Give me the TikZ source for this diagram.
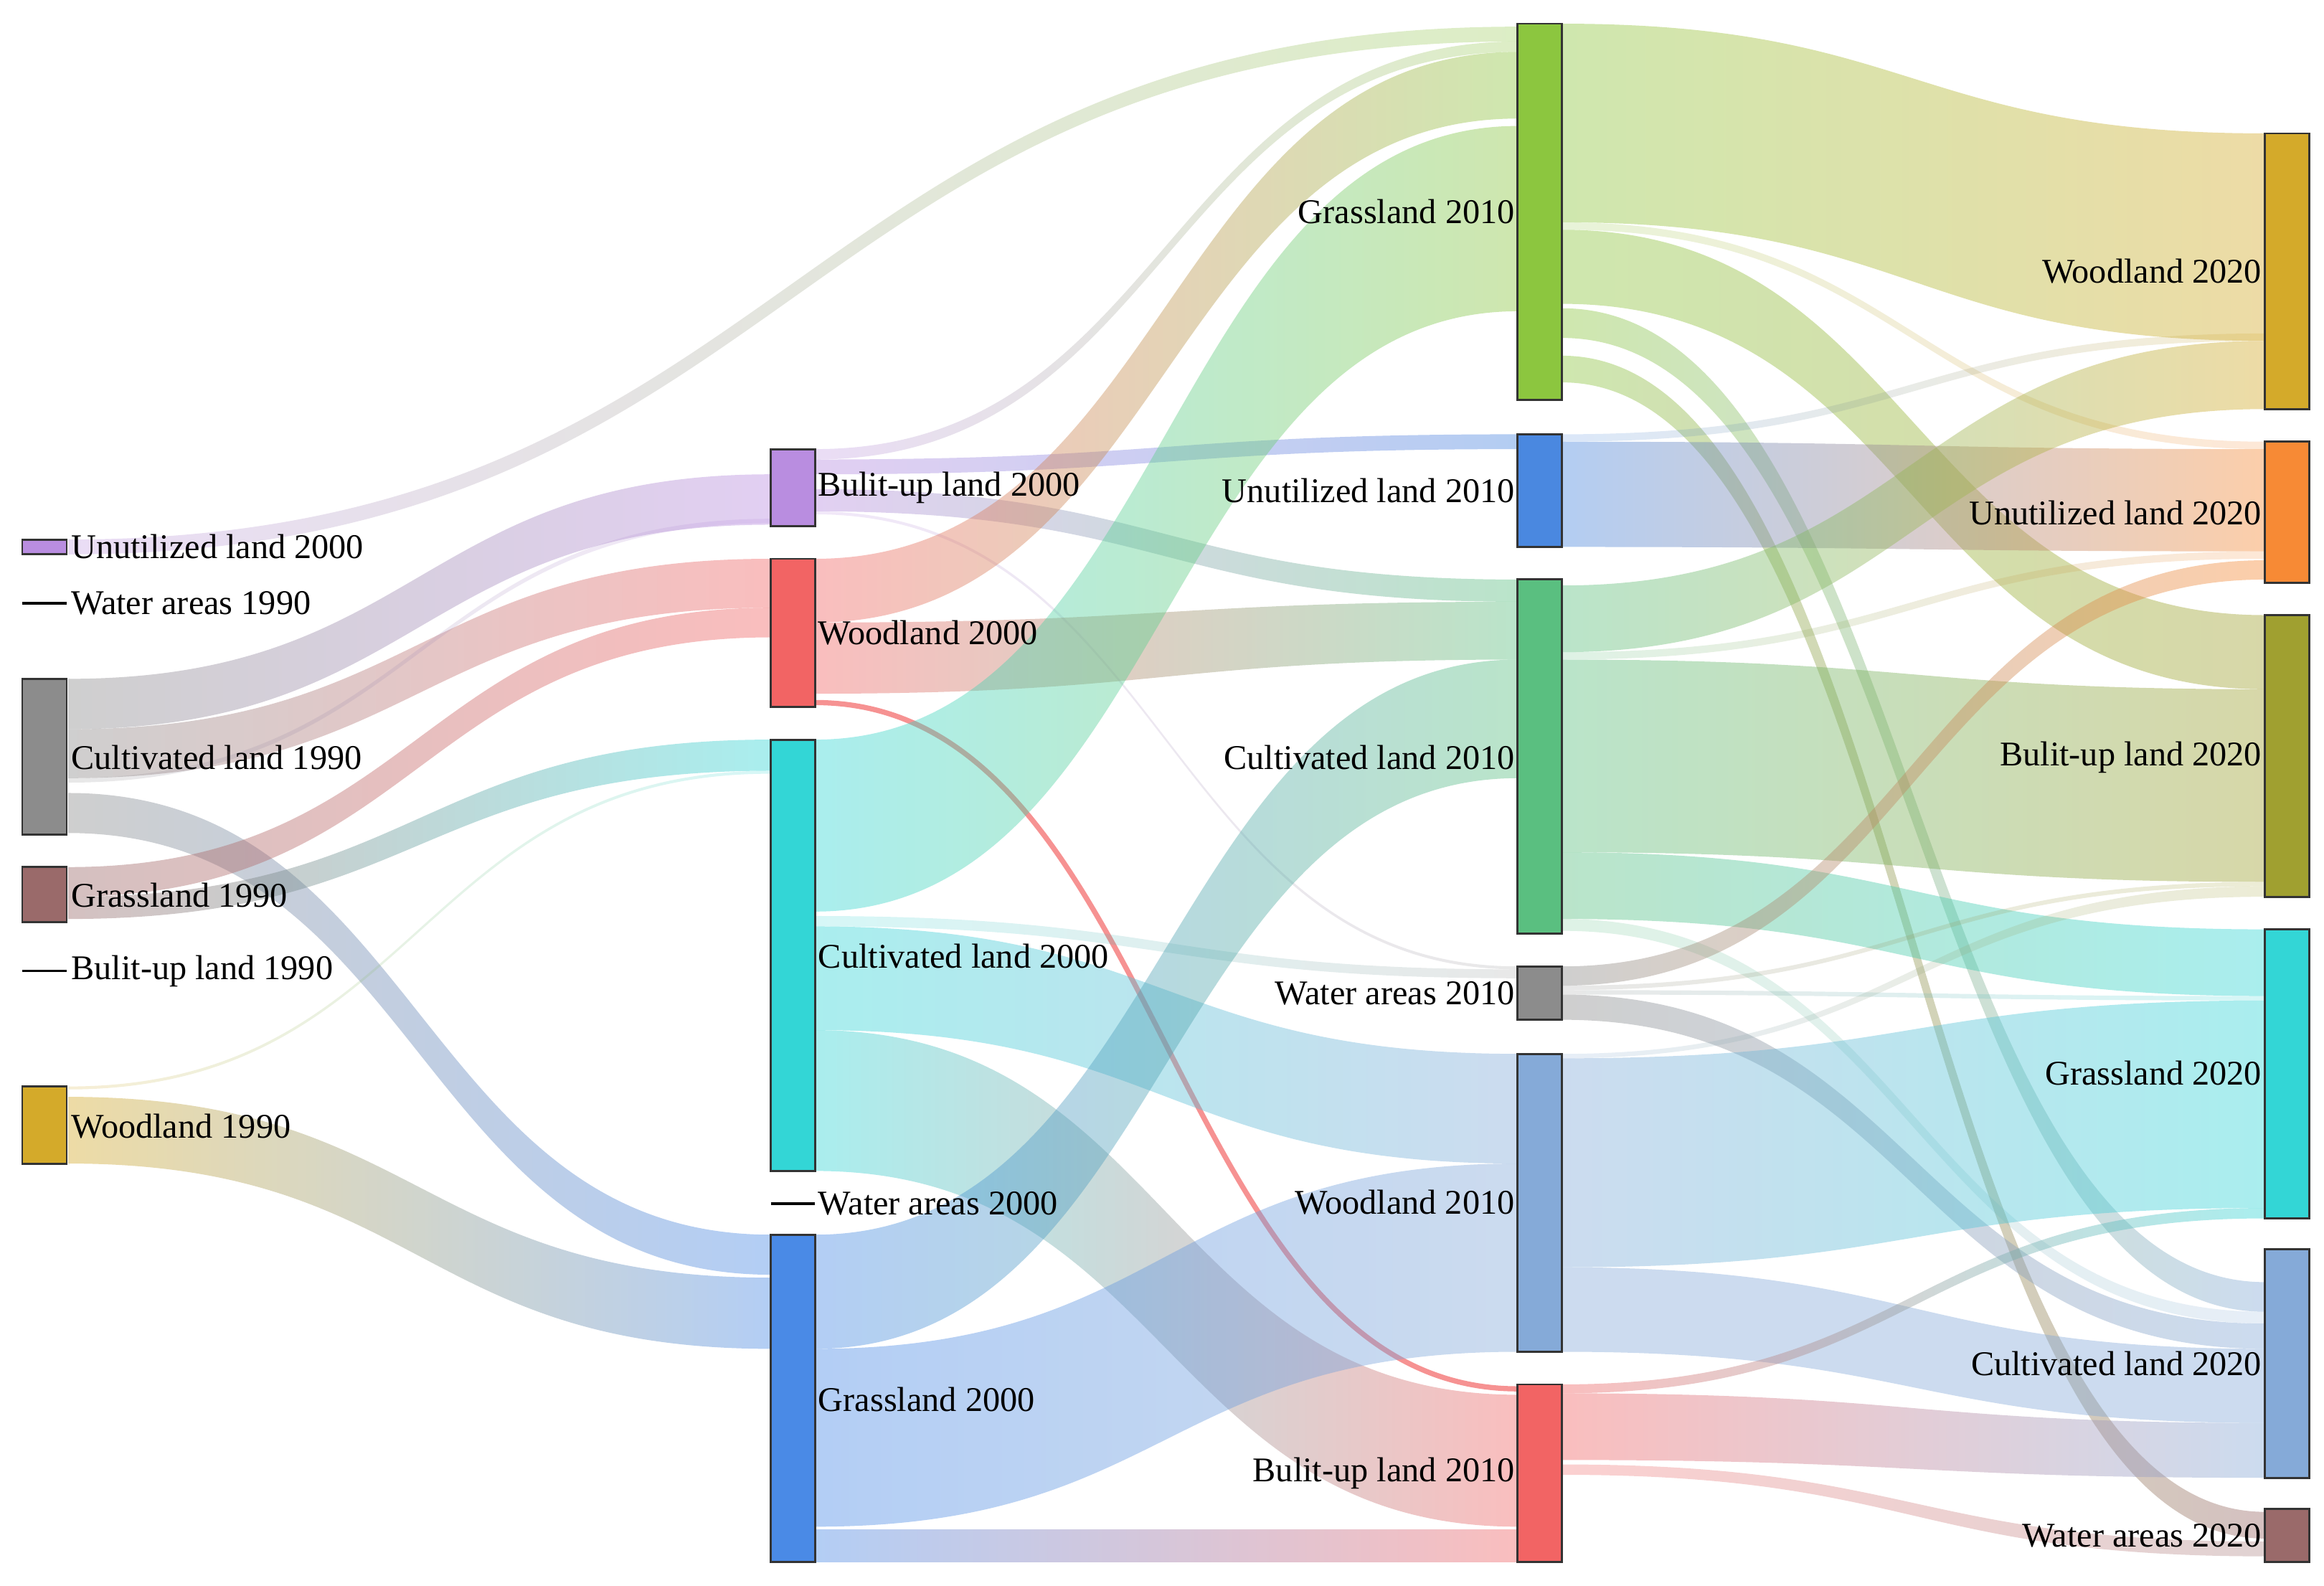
\documentclass[tikz,border=0pt]{standalone}
\usepackage{fontspec}
\setmainfont{Liberation Serif}
\usetikzlibrary{fit}
\definecolor{cpur}{HTML}{B98DE0}
\definecolor{cgray}{HTML}{8C8C8C}
\definecolor{cbrown}{HTML}{9A6A6A}
\definecolor{cgold}{HTML}{D4AA2A}
\definecolor{cred}{HTML}{F26464}
\definecolor{ccyan}{HTML}{33D6D6}
\definecolor{cblue}{HTML}{4A8AE6}
\definecolor{cgreen}{HTML}{8CC63F}
\definecolor{cblueb}{HTML}{4A88E0}
\definecolor{cgreenb}{HTML}{5ABF80}
\definecolor{clblue}{HTML}{85AAD8}
\definecolor{corange}{HTML}{F78A35}
\definecolor{colive}{HTML}{A0A030}
\newcommand\flwo[9]{\path[left color=#7,right color=#8,opacity=#9]
 (#1,#2) .. controls ({(#1+#4)/2},#2) and ({(#1+#4)/2},#5) .. (#4,#5) -- (#4,#6)
 .. controls ({(#1+#4)/2},#6) and ({(#1+#4)/2},#3) .. (#1,#3) -- cycle;}
\newcommand\flw[8]{\flwo{#1}{#2}{#3}{#4}{#5}{#6}{#7}{#8}{0.42}}
\newcommand\flwt[8]{\flwo{#1}{#2}{#3}{#4}{#5}{#6}{#7}{#8}{0.2}}
\newcommand\blk[5]{\node[draw=black!80,line width=0.8pt,fill=#5,inner sep=0pt,fit={(#2,#3)(#2+30,#4)}] (#1) {};}
\newcommand\thin[3]{\draw[black,line width=1pt] (#2,#3) -- (#2+30,#3) coordinate (#1);}
\tikzset{lw/.style={anchor=west,font=\fontsize{13.3}{15}\selectfont,inner sep=1pt},
 le/.style={anchor=east,font=\fontsize{13.3}{15}\selectfont,inner sep=1pt}}
\begin{document}
\begin{tikzpicture}[x=0.02cm,y=-0.02cm]
\useasboundingbox (0,0) rectangle (1568,1070);
% col1 -> col2
\flwo{46}{364}{374}{1024}{18}{28}{cpur}{cgreen}{0.3}
\flw{46}{458}{492}{520}{320}{354}{cgray}{cpur}
\flw{46}{492}{525}{520}{377}{410}{cgray}{cred}
\flwt{46}{525}{528}{520}{350}{353}{cgray}{cpur}
\flw{46}{535}{562}{520}{833}{860}{cgray}{cblue}
\flw{46}{585}{605}{520}{410}{430}{cbrown}{cred}
\flw{46}{605}{620}{520}{499}{520}{cbrown}{ccyan}
\flwt{46}{733}{735}{520}{520}{522}{cgold}{ccyan}
\flw{46}{740}{785}{520}{862}{910}{cgold}{cblue}
% col2 -> col3
\flwo{550}{303}{310}{1024}{28}{35}{cpur}{cgreen}{0.3}
\flw{550}{310}{320}{1024}{293}{303}{cpur}{cblueb}
\flw{550}{330}{345}{1024}{391}{406}{cpur}{cgreenb}
\flwt{550}{345}{347}{1024}{652}{654}{cpur}{cgray}
\flw{550}{377}{420}{1024}{35}{80}{cred}{cgreen}
\flw{550}{420}{468}{1024}{406}{445}{cred}{cgreenb}
\path[draw=cred,opacity=0.7,line width=2pt] (550,474) .. controls (787,474) and (787,937) .. (1024,937);
\flw{550}{499}{615}{1024}{85}{210}{ccyan}{cgreen}
\flwt{550}{618}{625}{1024}{654}{660}{ccyan}{cgray}
\flw{550}{625}{695}{1024}{711}{785}{ccyan}{clblue}
\flw{550}{695}{790}{1024}{941}{1030}{ccyan}{cred}
\flw{550}{833}{910}{1024}{445}{525}{cblue}{cgreenb}
\flw{550}{910}{1030}{1024}{785}{912}{cblue}{clblue}
\flw{550}{1032}{1054}{1024}{1032}{1054}{cblue}{cred}
% col3 -> col4
\flw{1054}{16}{150}{1528}{90}{230}{cgreen}{cgold}
\flwt{1054}{150}{155}{1528}{298}{303}{cgreen}{corange}
\flw{1054}{155}{205}{1528}{415}{465}{cgreen}{colive}
\flw{1054}{208}{228}{1528}{865}{885}{cgreen}{clblue}
\flw{1054}{240}{258}{1528}{1020}{1038}{cgreen}{cbrown}
\flwt{1054}{293}{298}{1528}{225}{230}{cblueb}{cgold}
\flw{1054}{298}{369}{1528}{303}{372}{cblueb}{corange}
\flw{1054}{395}{440}{1528}{230}{276}{cgreenb}{cgold}
\flwt{1054}{440}{445}{1528}{372}{377}{cgreenb}{corange}
\flw{1054}{445}{575}{1528}{465}{595}{cgreenb}{colive}
\flw{1054}{575}{620}{1528}{627}{672}{cgreenb}{ccyan}
\flwt{1054}{620}{628}{1528}{885}{893}{cgreenb}{clblue}
\flw{1054}{652}{665}{1528}{378}{391}{cgray}{corange}
\flwt{1054}{665}{668}{1528}{595}{598}{cgray}{colive}
\flwt{1054}{668}{671}{1528}{672}{675}{cgray}{ccyan}
\flw{1054}{671}{688}{1528}{893}{910}{cgray}{clblue}
\flwt{1054}{711}{714}{1528}{598}{605}{clblue}{colive}
\flw{1054}{714}{855}{1528}{675}{815}{clblue}{ccyan}
\flw{1054}{855}{912}{1528}{910}{960}{clblue}{clblue}
\flw{1054}{934}{940}{1528}{815}{822}{cred}{ccyan}
\flw{1054}{940}{985}{1528}{960}{997}{cred}{clblue}
\flwo{1054}{988}{995}{1528}{1040}{1050}{cred}{cbrown}{0.3}
% bars col1
\blk{u00}{15}{364}{374}{cpur}
\thin{w90}{15}{407}
\blk{c90}{15}{458}{563}{cgray}
\blk{g90}{15}{585}{622}{cbrown}
\thin{b90}{15}{655}
\blk{wd90}{15}{733}{785}{cgold}
% col2
\blk{b00}{520}{303}{355}{cpur}
\blk{wd00}{520}{377}{477}{cred}
\blk{c00}{520}{499}{790}{ccyan}
\thin{w00}{520}{812}
\blk{g00}{520}{833}{1054}{cblue}
% col3
\blk{g10}{1024}{16}{270}{cgreen}
\blk{u10}{1024}{293}{369}{cblueb}
\blk{c10}{1024}{391}{630}{cgreenb}
\blk{w10}{1024}{652}{688}{cgray}
\blk{wd10}{1024}{711}{912}{clblue}
\blk{b10}{1024}{934}{1054}{cred}
% col4
\blk{wd20}{1528}{90}{276}{cgold}
\blk{u20}{1528}{298}{393}{corange}
\blk{b20}{1528}{415}{605}{colive}
\blk{g20}{1528}{627}{822}{ccyan}
\blk{c20}{1528}{843}{997}{clblue}
\blk{w20}{1528}{1018}{1054}{cbrown}
% labels
\node[lw] (l1) at (46,369) {Unutilized land 2000};
\node[lw] (l2) at (46,407) {Water areas 1990};
\node[lw] (l3) at (46,511) {Cultivated land 1990};
\node[lw] (l4) at (46,604) {Grassland 1990};
\node[lw] (l5) at (46,655) {Bulit-up land 1990};
\node[lw] (l6) at (46,760) {Woodland 1990};
\node[lw] (l7) at (550,329) {Bulit-up land 2000};
\node[lw] (l8) at (550,427) {Woodland 2000};
\node[lw] (l9) at (550,645) {Cultivated land 2000};
\node[lw] (l10) at (550,812) {Water areas 2000};
\node[lw] (l11) at (550,944) {Grassland 2000};
\node[le] (l12) at (1024,143) {Grassland 2010};
\node[le] (l13) at (1024,331) {Unutilized land 2010};
\node[le] (l14) at (1024,511) {Cultivated land 2010};
\node[le] (l15) at (1024,670) {Water areas 2010};
\node[le] (l16) at (1024,811) {Woodland 2010};
\node[le] (l17) at (1024,994) {Bulit-up land 2010};
\node[le] (l18) at (1528,183) {Woodland 2020};
\node[le] (l19) at (1528,346) {Unutilized land 2020};
\node[le] (l20) at (1528,511) {Bulit-up land 2020};
\node[le] (l21) at (1528,724) {Grassland 2020};
\node[le] (l22) at (1528,920) {Cultivated land 2020};
\node[le] (l23) at (1528,1036) {Water areas 2020};
\end{tikzpicture}
\end{document}
